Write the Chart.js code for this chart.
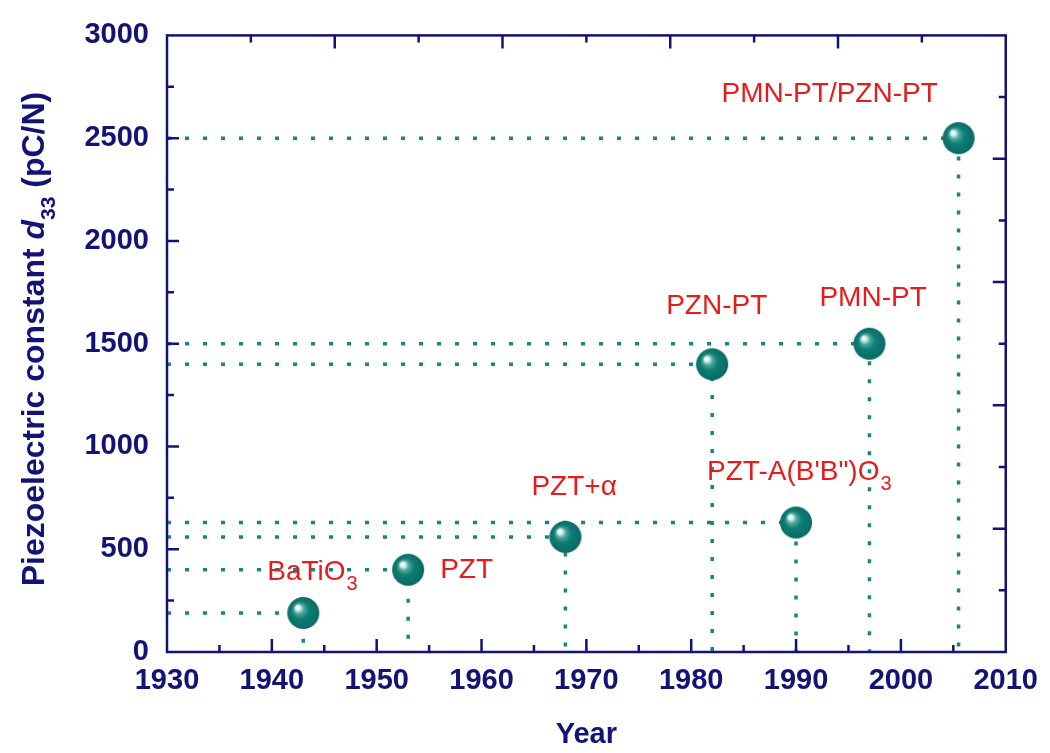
<!DOCTYPE html>
<html>
<head>
<meta charset="utf-8">
<script src="https://cdn.jsdelivr.net/npm/chart.js@4.4.1/dist/chart.umd.min.js"></script>
<style>
    html, body { margin: 0; padding: 0; background: #fff; }
    #wrap { width: 1050px; height: 753px; position: relative; }
</style>
</head>
<body>
<div id="wrap"><canvas id="chart"></canvas></div>
<script>
// datos
const years = [1943, 1953, 1968, 1982, 1990, 1997, 2005.5];
const d33 = [190, 400, 560, 1400, 630, 1500, 2500];
const materials = ['BaTiO', 'PZT', 'PZT+α', 'PZN-PT', 'PZT-A(B\'B")O', 'PMN-PT', 'PMN-PT/PZN-PT'];
const subscripts = ['3', '', '', '', '3', '', ''];
const xRange = [1930, 2010];
const yRange = [0, 3000];

const NAVY = '#131377';
const TEAL = '#16877f';
const RED = '#ea1a1a';
const FAM = '"Liberation Sans", Arial, sans-serif';

// esfera para los puntos
function crearEsfera(r) {
    const c = document.createElement('canvas');
    c.width = c.height = r * 2 + 2;
    const g = c.getContext('2d');
    const cx = r + 1, cy = r + 1;
    const grad = g.createRadialGradient(cx - r * 0.4, cy - r * 0.38, 0, cx, cy, r);
    grad.addColorStop(0, '#ffffff');
    grad.addColorStop(0.14, '#e2f4f1');
    grad.addColorStop(0.32, '#4aa79e');
    grad.addColorStop(0.55, '#0e7d74');
    grad.addColorStop(1, '#0a6b63');
    g.fillStyle = grad;
    g.beginPath();
    g.arc(cx, cy, r, 0, Math.PI * 2);
    g.fill();
    return c;
}

// lineas punteadas guia: horizontal desde el eje y, vertical hasta el eje x
const guias = years.map((yr, i) => ({
    type: 'line',
    data: [{ x: xRange[0], y: d33[i] }, { x: yr, y: d33[i] }, { x: yr, y: yRange[0] }],
    borderColor: TEAL,
    borderWidth: 3.5,
    borderDash: [4, 14],
    pointRadius: 0,
    fill: false,
    order: 2
}));

const esferas = {
    type: 'scatter',
    data: years.map((yr, i) => ({ x: yr, y: d33[i] })),
    pointStyle: crearEsfera(16),
    pointRadius: 16,
    pointHoverRadius: 16,
    order: 0
};

// marco con ticks hacia adentro
const marcoPlugin = {
    id: 'marco',
    afterDatasetsDraw(chart) {
        const { ctx, chartArea: a, scales } = chart;
        ctx.save();
        ctx.strokeStyle = NAVY;
        ctx.lineWidth = 2.5;
        ctx.strokeRect(a.left, a.top, a.right - a.left, a.bottom - a.top);
        ctx.beginPath();
        for (let v = xRange[0] + 5; v < xRange[1]; v += 5) {
            const px = scales.x.getPixelForValue(v);
            const len = v % 10 === 0 ? 13 : 7;
            ctx.moveTo(px, a.bottom); ctx.lineTo(px, a.bottom - len);
        }
        for (let v = yRange[0] + 250; v < yRange[1]; v += 250) {
            const py = scales.y.getPixelForValue(v);
            const len = v % 500 === 0 ? 12 : 7;
            ctx.moveTo(a.left, py); ctx.lineTo(a.left + len, py);
        }
        for (let v = 1; v < 10; v++) {
            const px = scales.x2.getPixelForValue(v);
            const len = v % 2 === 0 ? 13 : 7;
            ctx.moveTo(px, a.top); ctx.lineTo(px, a.top + len);
            const py = scales.y2.getPixelForValue(v);
            ctx.moveTo(a.right, py); ctx.lineTo(a.right - len, py);
        }
        ctx.stroke();
        ctx.restore();
    }
};

// etiquetas de materiales y titulos de ejes
const textosPlugin = {
    id: 'textos',
    afterDraw(chart, args, opts) {
        const { ctx, chartArea: a, scales } = chart;
        ctx.save();
        ctx.fillStyle = RED;
        ctx.textBaseline = 'alphabetic';
        ctx.textAlign = 'left';
        materials.forEach((m, i) => {
            const px = scales.x.getPixelForValue(years[i]) + opts.offsets[i][0];
            const py = scales.y.getPixelForValue(d33[i]) + opts.offsets[i][1];
            ctx.font = '28px ' + FAM;
            ctx.fillText(m, px, py);
            if (subscripts[i]) {
                const w = ctx.measureText(m).width;
                ctx.font = '20px ' + FAM;
                ctx.fillText(subscripts[i], px + w + 1, py + 10);
            }
        });

        ctx.fillStyle = NAVY;
        ctx.textAlign = 'center';
        ctx.font = 'bold 29px ' + FAM;
        ctx.fillText('Year', (a.left + a.right) / 2, 743);

        // titulo eje y con d en cursiva y subindice 33
        const partes = [
            { t: 'Piezoelectric constant ', f: 'bold 32px ' + FAM, dy: 0 },
            { t: 'd', f: 'italic bold 32px ' + FAM, dy: 0 },
            { t: '33', f: 'bold 21px ' + FAM, dy: 11 },
            { t: ' (pC/N)', f: 'bold 32px ' + FAM, dy: 0 }
        ];
        let total = 0;
        partes.forEach(p => { ctx.font = p.f; p.w = ctx.measureText(p.t).width; total += p.w; });
        ctx.translate(44, 339);
        ctx.rotate(-Math.PI / 2);
        ctx.textAlign = 'left';
        let x = -total / 2;
        partes.forEach(p => {
            ctx.font = p.f;
            ctx.fillText(p.t, x, p.dy);
            x += p.w;
        });
        ctx.restore();
    }
};

const fuenteTicks = { family: FAM, size: 29, weight: 'bold' };

new Chart(document.getElementById('chart'), {
    data: { datasets: [esferas, ...guias] },
    options: {
        responsive: true,
        maintainAspectRatio: false,
        animation: false,
        layout: { padding: { left: 0, top: 30, right: 43, bottom: 0 } },
        plugins: {
            legend: { display: false },
            tooltip: { enabled: false },
            textos: {
                offsets: [[-36, -33], [32, 8], [-34, -42], [-46, -50], [-89, -43], [-50, -38], [-237, -36]]
            }
        },
        scales: {
            x: {
                type: 'linear',
                position: 'bottom',
                min: xRange[0],
                max: xRange[1],
                ticks: { stepSize: 10, color: NAVY, font: fuenteTicks, padding: 12, maxRotation: 0, callback: v => String(v) },
                grid: { display: false, drawTicks: false },
                border: { display: false },
                afterFit(s) { s.height = 101; }
            },
            y: {
                type: 'linear',
                position: 'left',
                min: yRange[0],
                max: yRange[1],
                ticks: { stepSize: 500, color: NAVY, font: fuenteTicks, padding: 18, callback: v => String(v) },
                grid: { display: false, drawTicks: false },
                border: { display: false },
                afterFit(s) { s.width = 167; }
            },
            x2: {
                type: 'linear',
                position: 'top',
                min: 0,
                max: 10,
                ticks: { display: false },
                grid: { display: false, drawTicks: false },
                border: { display: false },
                afterFit(s) { s.height = 0; }
            },
            y2: {
                type: 'linear',
                position: 'right',
                min: 0,
                max: 10,
                ticks: { display: false },
                grid: { display: false, drawTicks: false },
                border: { display: false },
                afterFit(s) { s.width = 0; }
            }
        }
    },
    plugins: [marcoPlugin, textosPlugin]
});
</script>
</body>
</html>
